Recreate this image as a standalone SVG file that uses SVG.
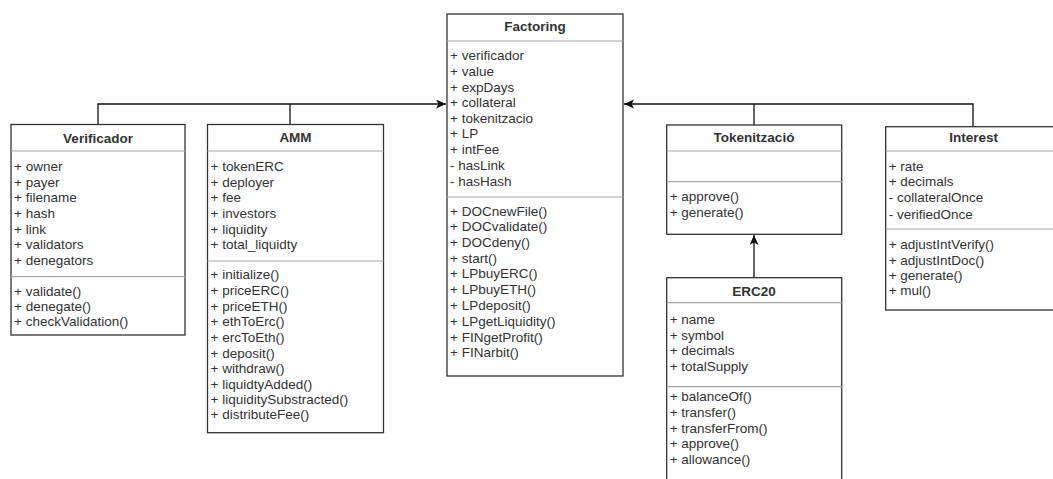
<svg xmlns="http://www.w3.org/2000/svg" width="1053" height="479" viewBox="0 0 1053 479">
  <defs>
    <style>
      .box { fill: #ffffff; stroke: #333333; stroke-width: 1.3; }
      .sep { stroke: #a6a6a6; stroke-width: 1.2; }
      .title { font-family: "Liberation Sans", Arial, sans-serif; font-size: 13.5px; font-weight: bold; fill: #333333; text-anchor: middle; }
      .row { font-family: "Liberation Sans", Arial, sans-serif; font-size: 13.5px; fill: #333333; }
      .edge { fill: none; stroke: #111111; stroke-width: 1.3; }
    </style>
    <marker id="arrow" markerUnits="userSpaceOnUse" markerWidth="12" markerHeight="10" refX="10" refY="4.5" orient="auto">
      <path d="M0,0 L10,4.5 L0,9 L2.5,4.5 Z" fill="#111111"/>
    </marker>
  </defs>
  <rect width="1053" height="479" fill="#ffffff"/>

  <!-- connectors -->
  <g id="connectors">
    <path class="edge" d="M98,124.5 V104 H446" marker-end="url(#arrow)"/>
    <path class="edge" d="M290,124.5 V104"/>
    <path class="edge" d="M973,126.7 V104 H624" marker-end="url(#arrow)"/>
    <path class="edge" d="M754,125 V104"/>
    <path class="edge" d="M754,277.7 V235" marker-end="url(#arrow)"/>
  </g>

  <!-- Factoring -->
  <g id="factoring">
    <rect class="box" x="447" y="14" width="176" height="362"/>
    <line class="sep" x1="447" y1="41" x2="623" y2="41"/>
    <line class="sep" x1="447" y1="197" x2="623" y2="197"/>
    <text class="title" x="535" y="30.5">Factoring</text>
    <text class="row" x="450" y="59.5">+ verificador</text>
    <text class="row" x="450" y="75.5">+ value</text>
    <text class="row" x="450" y="91.5">+ expDays</text>
    <text class="row" x="450" y="107">+ collateral</text>
    <text class="row" x="450" y="122.5">+ tokenitzacio</text>
    <text class="row" x="450" y="138">+ LP</text>
    <text class="row" x="450" y="154">+ intFee</text>
    <text class="row" x="450" y="169.5">- hasLink</text>
    <text class="row" x="450" y="186">- hasHash</text>
    <text class="row" x="450" y="216">+ DOCnewFile()</text>
    <text class="row" x="450" y="231">+ DOCvalidate()</text>
    <text class="row" x="450" y="246.5">+ DOCdeny()</text>
    <text class="row" x="450" y="262.5">+ start()</text>
    <text class="row" x="450" y="278">+ LPbuyERC()</text>
    <text class="row" x="450" y="293.5">+ LPbuyETH()</text>
    <text class="row" x="450" y="309.5">+ LPdeposit()</text>
    <text class="row" x="450" y="325.5">+ LPgetLiquidity()</text>
    <text class="row" x="450" y="341.5">+ FINgetProfit()</text>
    <text class="row" x="450" y="357">+ FINarbit()</text>
  </g>

  <!-- Verificador -->
  <g id="verificador">
    <rect class="box" x="11" y="124.5" width="174" height="210.5"/>
    <line class="sep" x1="11" y1="151" x2="185" y2="151"/>
    <line class="sep" x1="11" y1="276.7" x2="185" y2="276.7"/>
    <text class="title" x="98" y="143">Verificador</text>
    <text class="row" x="14" y="170.5">+ owner</text>
    <text class="row" x="14" y="187">+ payer</text>
    <text class="row" x="14" y="201.5">+ filename</text>
    <text class="row" x="14" y="217.5">+ hash</text>
    <text class="row" x="14" y="233.5">+ link</text>
    <text class="row" x="14" y="248.5">+ validators</text>
    <text class="row" x="14" y="265">+ denegators</text>
    <text class="row" x="14" y="295.5">+ validate()</text>
    <text class="row" x="14" y="311">+ denegate()</text>
    <text class="row" x="14" y="326">+ checkValidation()</text>
  </g>

  <!-- AMM -->
  <g id="amm">
    <rect class="box" x="207.5" y="124.5" width="176" height="308.2"/>
    <line class="sep" x1="207.5" y1="151" x2="383.5" y2="151"/>
    <line class="sep" x1="207.5" y1="261" x2="383.5" y2="261"/>
    <text class="title" x="295.5" y="141.5">AMM</text>
    <text class="row" x="210.5" y="171">+ tokenERC</text>
    <text class="row" x="210.5" y="187">+ deployer</text>
    <text class="row" x="210.5" y="201.5">+ fee</text>
    <text class="row" x="210.5" y="217.5">+ investors</text>
    <text class="row" x="210.5" y="233.5">+ liquidity</text>
    <text class="row" x="210.5" y="248.5">+ total_liquidty</text>
    <text class="row" x="210.5" y="278.5">+ initialize()</text>
    <text class="row" x="210.5" y="294.5">+ priceERC()</text>
    <text class="row" x="210.5" y="310.5">+ priceETH()</text>
    <text class="row" x="210.5" y="326">+ ethToErc()</text>
    <text class="row" x="210.5" y="341.5">+ ercToEth()</text>
    <text class="row" x="210.5" y="357.5">+ deposit()</text>
    <text class="row" x="210.5" y="372.5">+ withdraw()</text>
    <text class="row" x="210.5" y="389">+ liquidtyAdded()</text>
    <text class="row" x="210.5" y="404">+ liquiditySubstracted()</text>
    <text class="row" x="210.5" y="419">+ distributeFee()</text>
  </g>

  <!-- Tokenització -->
  <g id="tokenitzacio">
    <rect class="box" x="666.7" y="125" width="175" height="109.3"/>
    <line class="sep" x1="666.7" y1="151" x2="841.7" y2="151"/>
    <line class="sep" x1="666.7" y1="181.7" x2="841.7" y2="181.7"/>
    <text class="title" x="754" y="141.5">Tokenització</text>
    <text class="row" x="669.7" y="201">+ approve()</text>
    <text class="row" x="669.7" y="217">+ generate()</text>
  </g>

  <!-- ERC20 -->
  <g id="erc20">
    <rect class="box" x="666.7" y="277.7" width="175" height="215"/>
    <line class="sep" x1="666.7" y1="302.7" x2="841.7" y2="302.7"/>
    <line class="sep" x1="666.7" y1="386.7" x2="841.7" y2="386.7"/>
    <text class="title" x="754" y="295.5">ERC20</text>
    <text class="row" x="669.7" y="323.5">+ name</text>
    <text class="row" x="669.7" y="339.5">+ symbol</text>
    <text class="row" x="669.7" y="354.5">+ decimals</text>
    <text class="row" x="669.7" y="370.5">+ totalSupply</text>
    <text class="row" x="669.7" y="401">+ balanceOf()</text>
    <text class="row" x="669.7" y="417">+ transfer()</text>
    <text class="row" x="669.7" y="432.5">+ transferFrom()</text>
    <text class="row" x="669.7" y="447.5">+ approve()</text>
    <text class="row" x="669.7" y="464">+ allowance()</text>
  </g>

  <!-- Interest -->
  <g id="interest">
    <rect class="box" x="885.7" y="126.7" width="176" height="183.3"/>
    <line class="sep" x1="885.7" y1="151" x2="1061.7" y2="151"/>
    <line class="sep" x1="885.7" y1="229" x2="1061.7" y2="229"/>
    <text class="title" x="973.7" y="141.5">Interest</text>
    <text class="row" x="888.7" y="170.5">+ rate</text>
    <text class="row" x="888.7" y="186">+ decimals</text>
    <text class="row" x="888.7" y="202">- collateralOnce</text>
    <text class="row" x="888.7" y="219">- verifiedOnce</text>
    <text class="row" x="888.7" y="248.5">+ adjustIntVerify()</text>
    <text class="row" x="888.7" y="264.5">+ adjustIntDoc()</text>
    <text class="row" x="888.7" y="279.5">+ generate()</text>
    <text class="row" x="888.7" y="295">+ mul()</text>
  </g>
</svg>
